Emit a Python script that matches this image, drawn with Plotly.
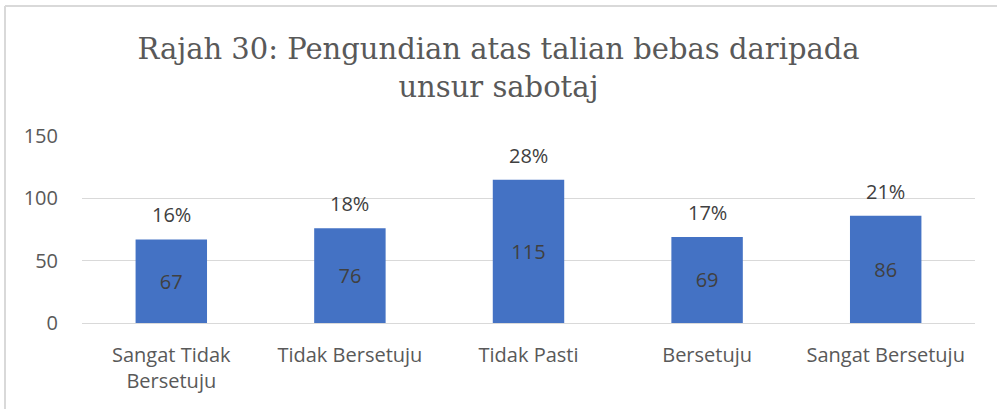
import plotly.graph_objects as go

categories = ["Sangat Tidak<br>Bersetuju", "Tidak Bersetuju", "Tidak Pasti", "Bersetuju", "Sangat Bersetuju"]
counts = [67, 76, 115, 69, 86]
percents = ["16%", "18%", "28%", "17%", "21%"]
y_ticks = [0, 50, 100, 150]

W, H = 997, 409
L, R, T, B = 82, 22, 136, 86
pw, ph = W - L - R, H - T - B

def px_to_paper_x(px):
    return (px - L) / pw

def px_to_paper_y(py):
    return (H - B - py) / ph

sans = "Open Sans, Noto Sans, sans-serif"
label_font = dict(family=sans, size=20, color="#404040")

fig = go.Figure()
fig.add_trace(go.Bar(
    x=categories, y=counts,
    marker=dict(color="#4472C4", line=dict(width=0)),
    text=[str(c) for c in counts],
    textposition="inside", insidetextanchor="middle",
    textfont=label_font,
    cliponaxis=False,
    hoverinfo="skip",
))

for cat, val, pct in zip(categories, counts, percents):
    fig.add_annotation(x=cat, y=val, text=pct, showarrow=False,
                       yanchor="bottom", yshift=9, font=label_font)

# chart frame (top and left edges visible)
fig.add_shape(type="line", xref="paper", yref="paper",
              x0=px_to_paper_x(5), x1=px_to_paper_x(W + 5),
              y0=px_to_paper_y(6), y1=px_to_paper_y(6),
              line=dict(color="#d9d9d9", width=2))
fig.add_shape(type="line", xref="paper", yref="paper",
              x0=px_to_paper_x(5), x1=px_to_paper_x(5),
              y0=px_to_paper_y(6), y1=px_to_paper_y(H + 5),
              line=dict(color="#d9d9d9", width=2))

fig.update_layout(
    width=W, height=H,
    margin=dict(l=L, r=R, t=T, b=B),
    paper_bgcolor="white", plot_bgcolor="white",
    bargap=0.6,
    showlegend=False,
    title=dict(
        text="Rajah 30: Pengundian atas talian bebas daripada<br>unsur sabotaj",
        x=0.5, xanchor="center", y=1 - 59 / H, yanchor="middle",
        font=dict(family="DejaVu Serif, Liberation Serif, serif", size=29, color="#595959"),
    ),
    xaxis=dict(
        showgrid=False, showline=False, ticks="",
        tickfont=dict(family=sans, size=20, color="#595959"),
        ticklabelstandoff=18,
    ),
    yaxis=dict(
        range=[0, 150], tickvals=y_ticks,
        showgrid=True, gridcolor="#d9d9d9", gridwidth=1,
        zeroline=True, zerolinecolor="#d9d9d9", zerolinewidth=1,
        showline=False, ticks="",
        tickfont=dict(family=sans, size=20, color="#595959"),
        ticklabelstandoff=23,
    ),
)

fig.write_html("out.html", config={"displayModeBar": False},
               post_script="document.body.style.margin='0';")
